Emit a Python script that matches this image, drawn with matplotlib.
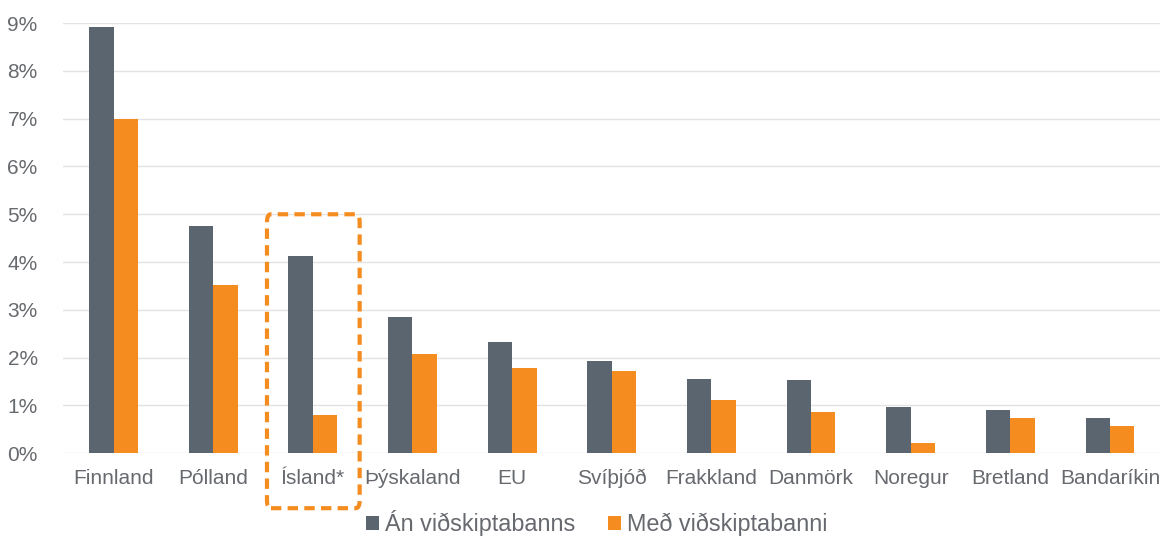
import matplotlib.pyplot as plt
import numpy as np
from matplotlib.patches import FancyBboxPatch
from matplotlib.ticker import FuncFormatter

# Gögn lesin af myndinni (%)
countries = ["Finnland", "Pólland", "Ísland*", "Þýskaland", "EU", "Svíþjóð",
             "Frakkland", "Danmörk", "Noregur", "Bretland", "Bandaríkin"]
an_banns = [8.91, 4.76, 4.12, 2.84, 2.33, 1.92, 1.55, 1.53, 0.96, 0.91, 0.73]
med_banni = [6.99, 3.53, 0.81, 2.07, 1.78, 1.72, 1.12, 0.86, 0.22, 0.73, 0.57]
series_names = ["Án viðskiptabanns", "Með viðskiptabanni"]

GRAY = "#5B6570"
ORANGE = "#F58C1F"
TEXT = "#66696E"

plt.rcParams["font.family"] = ["Liberation Sans", "DejaVu Sans"]

fig = plt.figure(figsize=(11.61, 5.37), dpi=100)
ax = fig.add_axes([0.054, 0.156, 0.945, 0.801])

x = np.arange(len(countries))
w = 0.245
ax.bar(x - w / 2, an_banns, w, color=GRAY, label=series_names[0], zorder=3)
ax.bar(x + w / 2, med_banni, w, color=ORANGE, label=series_names[1], zorder=3)

ax.set_ylim(0, 9)
ax.set_xlim(-0.51, len(countries) - 0.5)
ax.set_yticks(range(0, 10))
ax.yaxis.set_major_formatter(FuncFormatter(lambda v, _: f"{int(v)}%"))
ax.grid(axis="y", color="#E3E3E3", linewidth=1, zorder=0)
ax.set_xticks(x)
ax.set_xticklabels(countries)
ax.tick_params(axis="both", length=0, labelsize=15, colors=TEXT)
ax.tick_params(axis="y", pad=18)
ax.tick_params(axis="x", pad=11)
for s in ax.spines.values():
    s.set_visible(False)

# Strikaður rammi utan um Ísland
box = FancyBboxPatch((1.54, -1.15), 0.93, 6.15,
                     boxstyle="round,pad=0,rounding_size=0.04",
                     fill=False, edgecolor=ORANGE, linewidth=3,
                     linestyle=(0, (2.5, 1.5)), clip_on=False, zorder=4,
                     mutation_aspect=4)
ax.add_patch(box)

leg = fig.legend(loc="lower center", bbox_to_anchor=(0.514, -0.037), ncol=2,
                 frameon=False, fontsize=16.8, handlelength=0.55, handleheight=0.55,
                 handletextpad=0.25, columnspacing=1.4)
for t in leg.get_texts():
    t.set_color(TEXT)

fig.savefig("out.png", dpi=100)
